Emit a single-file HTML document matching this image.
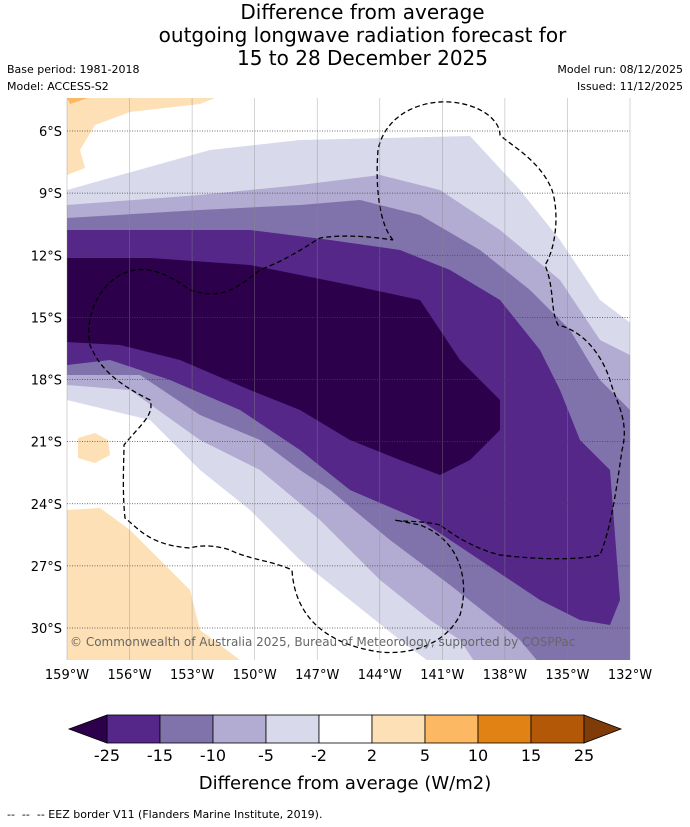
<!DOCTYPE html>
<html><head><meta charset="utf-8"><style>
body{margin:0;background:#fff;font-family:"DejaVu Sans",sans-serif;}
.t{position:absolute;color:#000;}
</style></head><body>
<div style="position:relative;width:690px;height:827px;overflow:hidden">
<div class="t" style="left:0;width:725px;top:1px;text-align:center;font-size:20px;line-height:23px">Difference from average<br>outgoing longwave radiation forecast for<br>15 to 28 December 2025</div>
<div class="t" style="left:7px;top:61px;font-size:11px;line-height:17px">Base period: 1981-2018<br>Model: ACCESS-S2</div>
<div class="t" style="right:7px;top:61px;font-size:11px;line-height:17px;text-align:right">Model run: 08/12/2025<br>Issued: 11/12/2025</div>
<svg id="map" width="690" height="827" style="position:absolute;left:0;top:0"></svg>
<div class="t" style="left:7px;top:808px;font-size:11px">--&nbsp; --&nbsp; -- EEZ border V11 (Flanders Marine Institute, 2019).</div>
</div>
<script>
const lonTicks=[159,156,153,150,147,144,141,138,135,132];
const latTicks=[6,9,12,15,18,21,24,27,30];
const levels=[-25,-15,-10,-5,-2,2,5,10,15,25];
const levelColors=['#542788','#8073ac','#b2abd2','#d8daeb','#ffffff','#fee0b6','#fdb863','#e08214','#b35806'];
const lowColor='#2d004b', highColor='#7f3b08';
const NS='http://www.w3.org/2000/svg';
const FONT='DejaVu Sans';
const svg=document.getElementById('map');
const X0=67,X1=630,Y0=98,Y1=660;
const lonX=l=>X0+(159-l)*(563/27);
const latY=l=>131+(l-6)*(497/24);
function mk(tag,attrs,parent){const e=document.createElementNS(NS,tag);for(const k in attrs)e.setAttribute(k,attrs[k]);(parent||svg).appendChild(e);return e;}
const clip=mk('clipPath',{id:'mc'});mk('rect',{x:X0,y:Y0,width:X1-X0,height:Y1-Y0},clip);
const g=mk('g',{'clip-path':'url(#mc)'});
function poly(pts,fill,name){const p=mk('polygon',{points:pts.map(a=>a.join(',')).join(' '),fill:fill},g);}
poly([[67,190],[210,150],[300,140],[470,136],[520,190],[560,240],[600,300],[640,330],[640,670],[440,670],[400,640],[350,600],[300,560],[250,510],[200,470],[150,420],[67,400]],'#d8daeb','band-minus5');
poly([[67,205],[200,195],[300,185],[380,175],[440,190],[500,230],[560,280],[600,340],[640,360],[640,670],[480,670],[460,640],[430,620],[380,580],[320,520],[260,470],[200,440],[130,390],[67,385]],'#b2abd2','band-minus10');
poly([[67,218],[200,210],[300,205],[360,200],[420,215],[480,250],[530,290],[570,330],[600,380],[640,420],[640,670],[545,670],[520,640],[450,585],[390,540],[330,490],[300,470],[260,440],[200,415],[140,375],[67,375]],'#8073ac','band-minus15');
poly([[67,230],[250,230],[330,240],[400,250],[450,270],[500,300],[540,350],[560,390],[580,440],[610,470],[620,600],[610,625],[580,620],[540,600],[480,560],[420,520],[350,490],[300,450],[240,410],[170,380],[110,360],[67,365]],'#542788','band-minus25');
poly([[67,258],[150,258],[250,265],[350,285],[420,300],[440,330],[460,360],[500,400],[500,430],[470,460],[440,475],[400,460],[350,440],[300,410],[250,390],[180,360],[120,345],[67,342]],'#2d004b','band-extreme');
poly([[67,98],[215,98],[200,104],[130,112],[95,125],[80,150],[85,168],[67,175]],'#fee0b6','orange-top');
poly([[67,98],[88,98],[70,104]],'#fdb863','orange-top-strong');
poly([[78,438],[95,433],[108,440],[110,455],[95,463],[78,458]],'#fee0b6','orange-island');
poly([[67,510],[100,508],[130,530],[160,560],[190,590],[200,630],[240,660],[240,670],[67,670]],'#fee0b6','orange-bottom');
lonTicks.forEach(l=>{const ln=mk('line',{x1:lonX(l),x2:lonX(l),y1:Y0,y2:Y1,stroke:'#888','stroke-width':0.6,'stroke-opacity':0.6});
 const t=mk('text',{x:lonX(l),y:679,'font-size':13,'text-anchor':'middle','font-family':FONT});t.textContent=l+'°W';});
latTicks.forEach(l=>{const ln=mk('line',{x1:X0,x2:X1,y1:latY(l),y2:latY(l),stroke:'#444','stroke-width':0.7,'stroke-dasharray':'1,1.5'});
 const t=mk('text',{x:62,y:latY(l)+5,'font-size':13,'text-anchor':'end','font-family':FONT});t.textContent=l+'°S';});
const eez=[
'M393,240 C380,225 375,190 378,150 C385,115 420,100 450,102 C480,104 500,120 500,135 C510,145 540,160 552,190 C560,215 555,250 545,265 C555,290 550,310 558,325 C580,330 600,350 610,380 C615,400 630,420 622,450 C615,500 610,530 600,555 C580,560 540,560 500,555 C480,550 460,540 440,525',
'M440,525 C420,520 400,522 395,520 L420,525 C460,540 470,580 460,615 C445,645 410,655 380,652 C330,645 295,620 292,570 C270,560 250,560 230,550 C215,545 200,545 190,548 C150,545 140,530 125,518 C122,490 124,460 124,445 C140,425 155,415 150,400 C120,385 100,370 90,345 C85,320 95,290 120,275 C140,265 160,268 190,290 C220,300 235,290 260,270 C290,258 300,250 320,238 C345,234 375,237 393,240'];
eez.forEach(d=>{const p=mk('path',{d:d,fill:'none',stroke:'#000','stroke-width':1.3,'stroke-dasharray':'5,3'},g);});
const cp=mk('text',{x:70,y:646,'font-size':12,fill:'#666','font-family':FONT});cp.textContent='© Commonwealth of Australia 2025, Bureau of Meteorology, supported by COSPPac';
const cbX0=107,cbW=53,cbY=715,cbH=28;
levelColors.forEach((c,i)=>{const r=mk('rect',{x:cbX0+i*cbW,y:cbY,width:cbW,height:cbH,fill:c,stroke:'#000','stroke-width':0.8});});
const n=levelColors.length;
const lt=mk('polygon',{points:`${cbX0},${cbY} ${69},${cbY+cbH/2} ${cbX0},${cbY+cbH}`,fill:lowColor,stroke:'#000','stroke-width':0.8});
const rt=mk('polygon',{points:`${cbX0+n*cbW},${cbY} ${621},${cbY+cbH/2} ${cbX0+n*cbW},${cbY+cbH}`,fill:highColor,stroke:'#000','stroke-width':0.8});
levels.forEach((v,i)=>{const t=mk('text',{x:cbX0+i*cbW,y:761,'font-size':16,'text-anchor':'middle','font-family':FONT});t.textContent=v;});
const ct=mk('text',{x:345,y:789,'font-size':18,'text-anchor':'middle','font-family':FONT});ct.textContent='Difference from average (W/m2)';
</script>
</body></html>
